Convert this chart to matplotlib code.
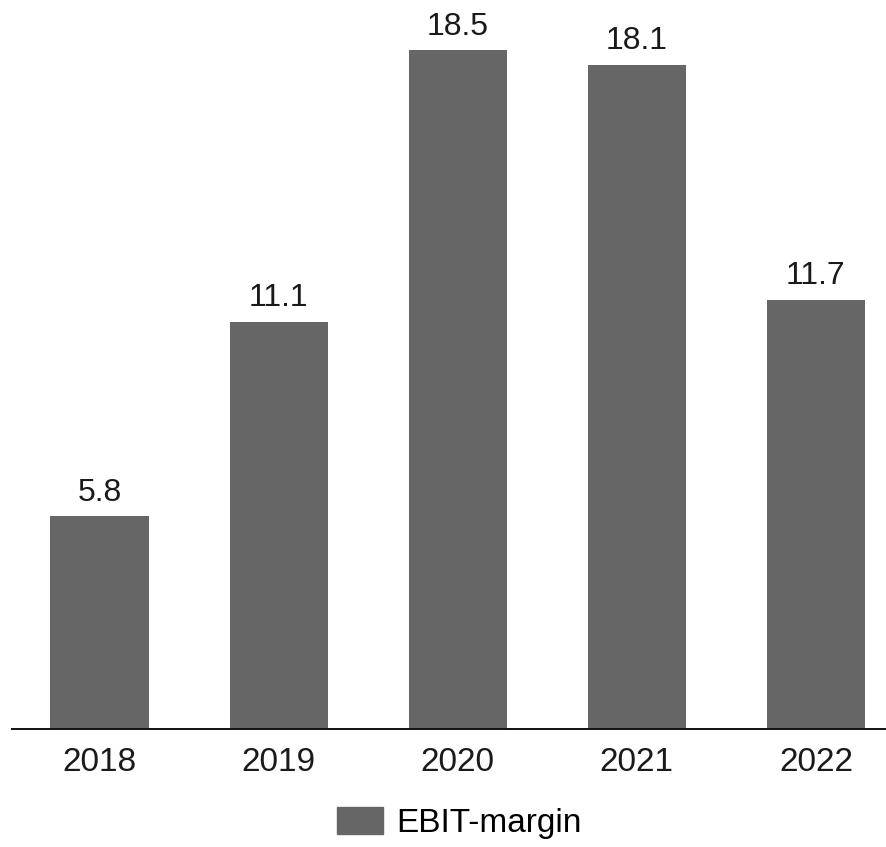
import matplotlib
matplotlib.use("Agg")
import matplotlib.pyplot as plt
from matplotlib.patches import Patch

plt.rcParams['font.family'] = ['Liberation Sans', 'DejaVu Sans']

years = ["2018", "2019", "2020", "2021", "2022"]
ebit_margin = [5.8, 11.1, 18.5, 18.1, 11.7]
series_name = "EBIT-margin"
bar_color = "#666666"

W, H = 887, 847
fig = plt.figure(figsize=(W / 100, H / 100), dpi=100)
ax = fig.add_axes([12 / W, (H - 729) / H, 1 - 12 / W, 729 / H])

x = list(range(len(years)))
bars = ax.bar(x, ebit_margin, width=0.55, color=bar_color, zorder=2)
ax.bar_label(bars, labels=[f"{v:.1f}" for v in ebit_margin], padding=6,
             fontsize=23, color="#1a1a1a")

ax.set_xlim(-0.49, 4.397)
ax.set_ylim(0, 729 / 36.7)
ax.set_xticks(x)
ax.set_xticklabels(years, fontsize=24, color="#1a1a1a")
ax.tick_params(axis="x", length=0, pad=13)
ax.set_yticks([])
for side in ("left", "right", "top"):
    ax.spines[side].set_visible(False)
ax.spines["bottom"].set_linewidth(1.4)
ax.spines["bottom"].set_color("#111111")

fig.legend(handles=[Patch(color=bar_color, label=series_name)],
           loc="center", bbox_to_anchor=(459 / W, (H - 823) / H),
           frameon=False, fontsize=24, handlelength=1.38, handleheight=0.84,
           handletextpad=0.39, borderpad=0, borderaxespad=0)

fig.savefig("out.png", dpi=100)
